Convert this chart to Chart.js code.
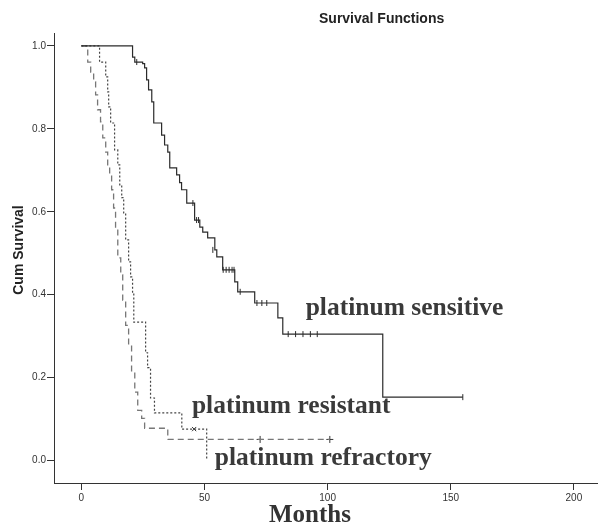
<!DOCTYPE html>
<html>
<head>
<meta charset="utf-8">
<script src="https://cdn.jsdelivr.net/npm/chart.js@4.4.1/dist/chart.umd.min.js"></script>
<style>
  html, body { margin: 0; padding: 0; background: #fff; }
  canvas { display: block; }
</style>
</head>
<body>
<canvas id="survivalChart" width="598" height="527"></canvas>
<script>
// axis ticks
const xTicks = [0, 50, 100, 150, 200];
const yTicks = [0, 0.2, 0.4, 0.6, 0.8, 1.0];

// platinum sensitive (solid): month of each drop and survival after it
const sensitiveMonths = [0, 20.8, 21.7, 24.9, 25.7, 26.5, 27.3, 28.6, 29.4, 32.6, 33.8, 35.1, 35.9, 38.7, 39.9, 40.7, 42.8, 46.0, 48.1, 49.3, 51.3, 54.2, 55.0, 57.4, 62.3, 63.5, 70.4, 79.8, 81.8, 122.4, 154.9];
const sensitiveSurv   = [1, 0.973, 0.961, 0.957, 0.947, 0.918, 0.894, 0.865, 0.814, 0.785, 0.761, 0.744, 0.706, 0.689, 0.670, 0.653, 0.621, 0.580, 0.563, 0.551, 0.537, 0.508, 0.491, 0.460, 0.431, 0.407, 0.380, 0.344, 0.305, 0.153, 0.153];
const sensitiveCensorMonths = [22.5, 45.3, 46.8, 47.6, 53.4, 57.6, 58.8, 60.0, 61.2, 62.0, 64.5, 71.3, 73.3, 75.3, 84.0, 87.0, 90.0, 93.0, 95.8, 154.9];
const sensitiveCensorSurv   = [0.961, 0.621, 0.580, 0.580, 0.508, 0.460, 0.460, 0.460, 0.460, 0.460, 0.407, 0.380, 0.380, 0.380, 0.305, 0.305, 0.305, 0.305, 0.305, 0.153];

// platinum resistant (dotted)
const resistantMonths = [0, 7.4, 9.9, 10.7, 11.1, 11.9, 13.5, 14.8, 15.6, 16.4, 17.2, 18.0, 19.2, 20.0, 20.8, 21.3, 26.1, 26.9, 28.1, 29.7, 40.8, 50.9];
const resistantSurv   = [1, 0.961, 0.925, 0.889, 0.853, 0.814, 0.749, 0.713, 0.665, 0.634, 0.597, 0.532, 0.479, 0.443, 0.404, 0.334, 0.260, 0.224, 0.151, 0.115, 0.076, 0];
const resistantCensorMonths = [45.8];
const resistantCensorSurv   = [0.076];

// platinum refractory (dashed)
const refractoryMonths = [0, 2.6, 3.8, 5.0, 5.8, 6.6, 7.8, 8.7, 9.9, 10.7, 11.5, 12.3, 13.1, 13.9, 14.8, 16.0, 16.8, 18.0, 19.2, 20.4, 21.7, 22.9, 24.5, 25.7, 35.1, 100.9];
const refractorySurv   = [1, 0.961, 0.937, 0.913, 0.882, 0.846, 0.817, 0.778, 0.744, 0.713, 0.689, 0.653, 0.609, 0.561, 0.489, 0.448, 0.387, 0.326, 0.278, 0.213, 0.165, 0.121, 0.102, 0.078, 0.051, 0.051];
const refractoryCensorMonths = [72.6, 100.9];
const refractoryCensorSurv   = [0.051, 0.051];

// curve labels
const curveLabels = ['platinum sensitive', 'platinum resistant', 'platinum refractory'];

function toPoints(months, surv) {
    return months.map((m, i) => ({ x: m, y: surv[i] }));
}

// where the labels sit, in data units
const labelAnchors = [
    { x: 91.1, y: 0.351 },
    { x: 44.9, y: 0.114 },
    { x: 54.2, y: -0.011 }
];

const textPlugin = {
    id: 'survivalText',
    afterDraw(chart) {
        const ctx = chart.ctx;
        const xs = chart.scales.x, ys = chart.scales.y;
        ctx.save();
        ctx.textBaseline = 'alphabetic';

        // title
        ctx.fillStyle = '#222';
        ctx.textAlign = 'left';
        ctx.font = 'bold 14px "Liberation Sans", Arial, sans-serif';
        ctx.fillText('Survival Functions', 319, 23);

        // y title
        ctx.save();
        ctx.translate(23, 250);
        ctx.rotate(-Math.PI / 2);
        ctx.textAlign = 'center';
        ctx.font = 'bold 14px "Liberation Sans", Arial, sans-serif';
        ctx.fillText('Cum Survival', 0, 0);
        ctx.restore();

        // x title
        ctx.fillStyle = '#333';
        ctx.textAlign = 'center';
        ctx.font = 'bold 25px "Liberation Serif", "Times New Roman", serif';
        ctx.fillText('Months', 310, 522);

        // curve labels
        ctx.fillStyle = '#3a3a3a';
        ctx.textAlign = 'left';
        ctx.font = 'bold 25.5px "Liberation Serif", "Times New Roman", serif';
        curveLabels.forEach((t, i) => {
            ctx.fillText(t, xs.getPixelForValue(labelAnchors[i].x), ys.getPixelForValue(labelAnchors[i].y));
        });
        ctx.restore();
    }
};

const axisFont = { family: '"Liberation Sans", Arial, sans-serif', size: 10 };

new Chart(document.getElementById('survivalChart'), {
    type: 'line',
    data: {
        datasets: [
            {
                label: curveLabels[0],
                data: toPoints(sensitiveMonths, sensitiveSurv),
                borderColor: '#2b2b2b',
                borderWidth: 1.2,
                stepped: true,
                pointRadius: 0,
                fill: false
            },
            {
                label: curveLabels[1],
                data: toPoints(resistantMonths, resistantSurv),
                borderColor: '#444',
                borderWidth: 1.2,
                borderDash: [2, 2],
                stepped: true,
                pointRadius: 0,
                fill: false
            },
            {
                label: curveLabels[2],
                data: toPoints(refractoryMonths, refractorySurv),
                borderColor: '#777',
                borderWidth: 1.3,
                borderDash: [6, 4],
                stepped: true,
                pointRadius: 0,
                fill: false
            },
            {
                label: 'sensitive censored',
                data: toPoints(sensitiveCensorMonths, sensitiveCensorSurv),
                showLine: false,
                pointStyle: 'line',
                rotation: 90,
                pointRadius: 3,
                pointBorderColor: '#2b2b2b',
                pointBorderWidth: 1
            },
            {
                label: 'resistant censored',
                data: toPoints(resistantCensorMonths, resistantCensorSurv),
                showLine: false,
                pointStyle: 'crossRot',
                pointRadius: 3,
                pointBorderColor: '#333',
                pointBorderWidth: 1
            },
            {
                label: 'refractory censored',
                data: toPoints(refractoryCensorMonths, refractoryCensorSurv),
                showLine: false,
                pointStyle: 'cross',
                pointRadius: 3.5,
                pointBorderColor: '#333',
                pointBorderWidth: 1
            }
        ]
    },
    options: {
        responsive: false,
        animation: false,
        devicePixelRatio: 1,
        // no extra room for point radius, the plot runs to the right edge
        layout: { autoPadding: false, padding: { top: 33, left: 0, right: 0, bottom: 0 } },
        plugins: {
            legend: { display: false },
            tooltip: { enabled: false }
        },
        scales: {
            x: {
                type: 'linear',
                min: -11.1,
                max: 209.8,
                afterBuildTicks: s => { s.ticks = xTicks.map(v => ({ value: v })); },
                afterFit: s => { s.height = 44; },
                grid: { drawOnChartArea: false, drawTicks: true, tickLength: 7, color: '#333' },
                border: { display: true, color: '#333', width: 1 },
                ticks: { color: '#333', font: axisFont, padding: 2, maxRotation: 0, callback: v => String(v) }
            },
            y: {
                type: 'linear',
                min: -0.054,
                max: 1.031,
                afterBuildTicks: s => { s.ticks = yTicks.map(v => ({ value: v })); },
                afterFit: s => { s.width = 54; },
                grid: { drawOnChartArea: false, drawTicks: true, tickLength: 7, color: '#333' },
                border: { display: true, color: '#333', width: 1 },
                ticks: { color: '#333', font: axisFont, padding: 1, callback: v => v.toFixed(1) }
            }
        }
    },
    plugins: [textPlugin]
});
</script>
</body>
</html>
